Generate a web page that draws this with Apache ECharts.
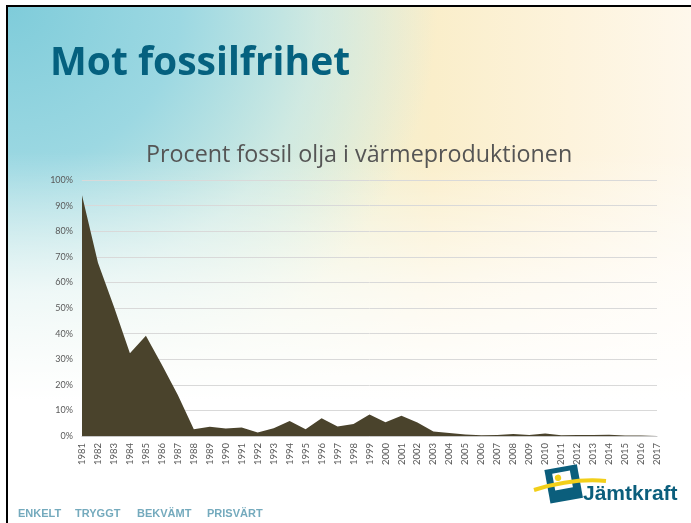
<!DOCTYPE html>
<html>
<head>
<meta charset="utf-8">
<script src="https://cdn.jsdelivr.net/npm/echarts@6/dist/echarts.min.js"></script>
<style>
  html, body { margin: 0; padding: 0; background: #fff; }
  #slide {
    position: absolute; left: 6px; top: 5px; width: 685px; height: 518px;
    border-left: 2px solid #000; border-top: 2px solid #000;
    background:
      linear-gradient(to bottom, rgba(255,255,255,0) 0%, rgba(255,255,255,0) 28%, rgba(255,255,255,0.7) 55%, #fff 76%),
      radial-gradient(ellipse 430px 400px at 0% 0%, #7fccda 0%, #9cd8e2 40%, rgba(190,229,234,0.6) 72%, rgba(255,255,255,0) 100%),
      linear-gradient(90deg, #d5ecdf 0%, #e9f0d6 40%, #faeeca 62%, #fdf3dc 82%, #fef8ec 100%);
  }
  #chart { position: absolute; left: 0; top: 0; width: 691px; height: 523px; }
</style>
</head>
<body>
<div id="slide"></div>
<div id="chart"></div>
<script>
// kategorier (år)
const years = ['1981', '1982', '1983', '1984', '1985', '1986', '1987', '1988', '1989', '1990',
  '1991', '1992', '1993', '1994', '1995', '1996', '1997', '1998', '1999', '2000',
  '2001', '2002', '2003', '2004', '2005', '2006', '2007', '2008', '2009', '2010',
  '2011', '2012', '2013', '2014', '2015', '2016', '2017'];
// procent fossil olja
const oilShare = [94, 67.7, 50.5, 32.3, 39.2, 27.8, 16, 2.6, 3.6, 2.9,
  3.3, 1.4, 3.0, 5.9, 2.6, 6.9, 3.7, 4.7, 8.4, 5.4,
  7.9, 5.3, 1.8, 1.2, 0.6, 0.3, 0.4, 0.8, 0.4, 1.0,
  0.3, 0.4, 0.4, 0.5, 0.15, 0.15, 0.3];
const footerWords = ['ENKELT', 'TRYGGT', 'BEKVÄMT', 'PRISVÄRT'];
const footerX = [18, 75, 137, 207];

const chart = echarts.init(document.getElementById('chart'));

const footer = footerWords.map((w, i) => ({
  type: 'text',
  left: footerX[i],
  top: 508,
  style: { text: w, fill: '#74aabd', font: 'bold 11px "Liberation Sans", Arial, sans-serif' }
}));

const option = {
  backgroundColor: 'transparent',
  animation: false,
  title: [
    {
      text: 'Mot fossilfrihet',
      left: 45,
      top: 39,
      textStyle: { color: '#05617f', fontSize: 39, fontWeight: 'bold', fontFamily: 'Open Sans' }
    },
    {
      text: 'Procent fossil olja i värmeproduktionen',
      left: 141,
      top: 139,
      textStyle: { color: '#555555', fontSize: 23.3, fontWeight: 'normal', fontFamily: 'Open Sans' }
    }
  ],
  grid: { left: 82, right: 34, top: 180, bottom: 87, containLabel: false },
  xAxis: {
    type: 'category',
    data: years,
    boundaryGap: false,
    axisLine: { lineStyle: { color: '#c8c8c8' } },
    axisTick: { show: false },
    axisLabel: {
      rotate: 90, interval: 0, margin: 7,
      color: '#595959', fontSize: 9.5, fontFamily: 'Lato'
    }
  },
  yAxis: {
    type: 'value',
    min: 0,
    max: 100,
    interval: 10,
    axisLine: { show: false },
    axisTick: { show: false },
    axisLabel: { formatter: '{value}%', color: '#595959', fontSize: 9, fontFamily: 'Lato', margin: 9 },
    splitLine: { lineStyle: { color: '#d9d9d9', width: 1 } }
  },
  series: [{
    name: 'Fossil olja',
    type: 'line',
    data: oilShare,
    symbol: 'none',
    lineStyle: { width: 0 },
    areaStyle: { color: '#4a432c', opacity: 1 },
    z: 3
  }],
  graphic: [
    ...footer,
    {
      type: 'group',
      x: 563,
      y: 483,
      rotation: 0.18,
      children: [
        { type: 'rect', shape: { x: -16, y: -16, width: 33, height: 34 }, style: { fill: '#0b5e7c' } },
        { type: 'rect', shape: { x: -9, y: -11, width: 18, height: 17 }, style: { fill: '#ffffff' } },
        { type: 'circle', shape: { cx: -4, cy: -6, r: 3.2 }, style: { fill: '#f2cf1a' } }
      ]
    },
    {
      type: 'bezierCurve',
      shape: { x1: 534, y1: 490, x2: 606, y2: 481, cpx1: 560, cpy1: 482, cpx2: 585, cpy2: 479 },
      style: { stroke: '#f2cf1a', lineWidth: 4, fill: null }
    },
    {
      type: 'text',
      left: 583,
      top: 484,
      style: { text: 'Jämtkraft', fill: '#0b5e7c', font: 'bold 21px "Liberation Sans", Arial, sans-serif' }
    }
  ]
};

chart.setOption(option);
</script>
</body>
</html>
